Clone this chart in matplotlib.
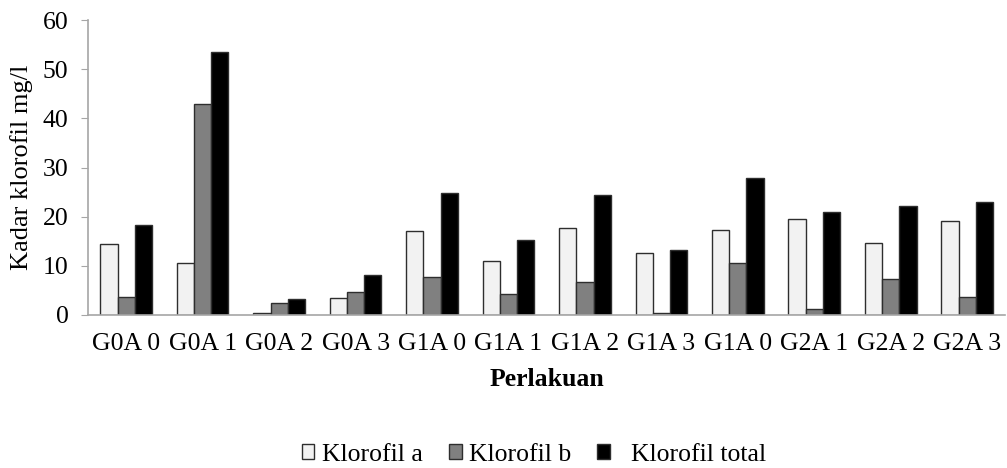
import numpy as np
import matplotlib
matplotlib.use("Agg")
import matplotlib.pyplot as plt
from matplotlib import rcParams

rcParams['font.family'] = ['Liberation Serif', 'DejaVu Serif']

perlakuan = ["G0A 0", "G0A 1", "G0A 2", "G0A 3", "G1A 0", "G1A 1",
             "G1A 2", "G1A 3", "G1A 0", "G2A 1", "G2A 2", "G2A 3"]
klorofil_a = [14.4, 10.5, 0.5, 3.4, 17.1, 11.0, 17.6, 12.6, 17.3, 19.6, 14.7, 19.1]
klorofil_b = [3.7, 43.0, 2.4, 4.7, 7.7, 4.2, 6.8, 0.5, 10.5, 1.3, 7.4, 3.7]
klorofil_total = [18.3, 53.5, 3.2, 8.1, 24.8, 15.3, 24.4, 13.2, 27.8, 21.0, 22.1, 22.9]

x = np.arange(len(perlakuan))
w = 0.225

fig = plt.figure(figsize=(10.07, 4.68), dpi=100)
ax = fig.add_axes([0.0874, 0.327, 0.911, 0.630])

ax.bar(x - w, klorofil_a, w, color="#f2f2f2", edgecolor="#2e2e2e", linewidth=1, label="Klorofil a")
ax.bar(x, klorofil_b, w, color="#808080", edgecolor="#2e2e2e", linewidth=1, label="Klorofil b")
ax.bar(x + w, klorofil_total, w, color="black", edgecolor="#2e2e2e", linewidth=1, label="  Klorofil total")

ax.set_xlim(-0.5, len(perlakuan) - 0.5)
ax.set_ylim(0, 60)
ax.set_yticks([0, 10, 20, 30, 40, 50, 60])
ax.set_xticks(x)
ax.set_xticklabels(perlakuan)

for s in ["top", "right"]:
    ax.spines[s].set_visible(False)
for s in ["left", "bottom"]:
    ax.spines[s].set_color("#a6a6a6")
    ax.spines[s].set_linewidth(1.2)

ax.tick_params(axis="y", length=5, color="#a6a6a6", labelsize=18.5, pad=9)
ax.tick_params(axis="x", length=0, labelsize=18.5, pad=13)

ax.set_ylabel("Kadar klorofil mg/l", fontsize=19, labelpad=7)
ax.set_xlabel("Perlakuan", fontsize=18.5, fontweight="bold", labelpad=9)

fig.legend(loc="center", bbox_to_anchor=(0.53, 0.028), ncol=3, frameon=False,
           fontsize=18.5, handlelength=0.5, handleheight=0.5, handletextpad=0.3,
           columnspacing=1.0, borderaxespad=0)

fig.savefig("out.png", dpi=100)
